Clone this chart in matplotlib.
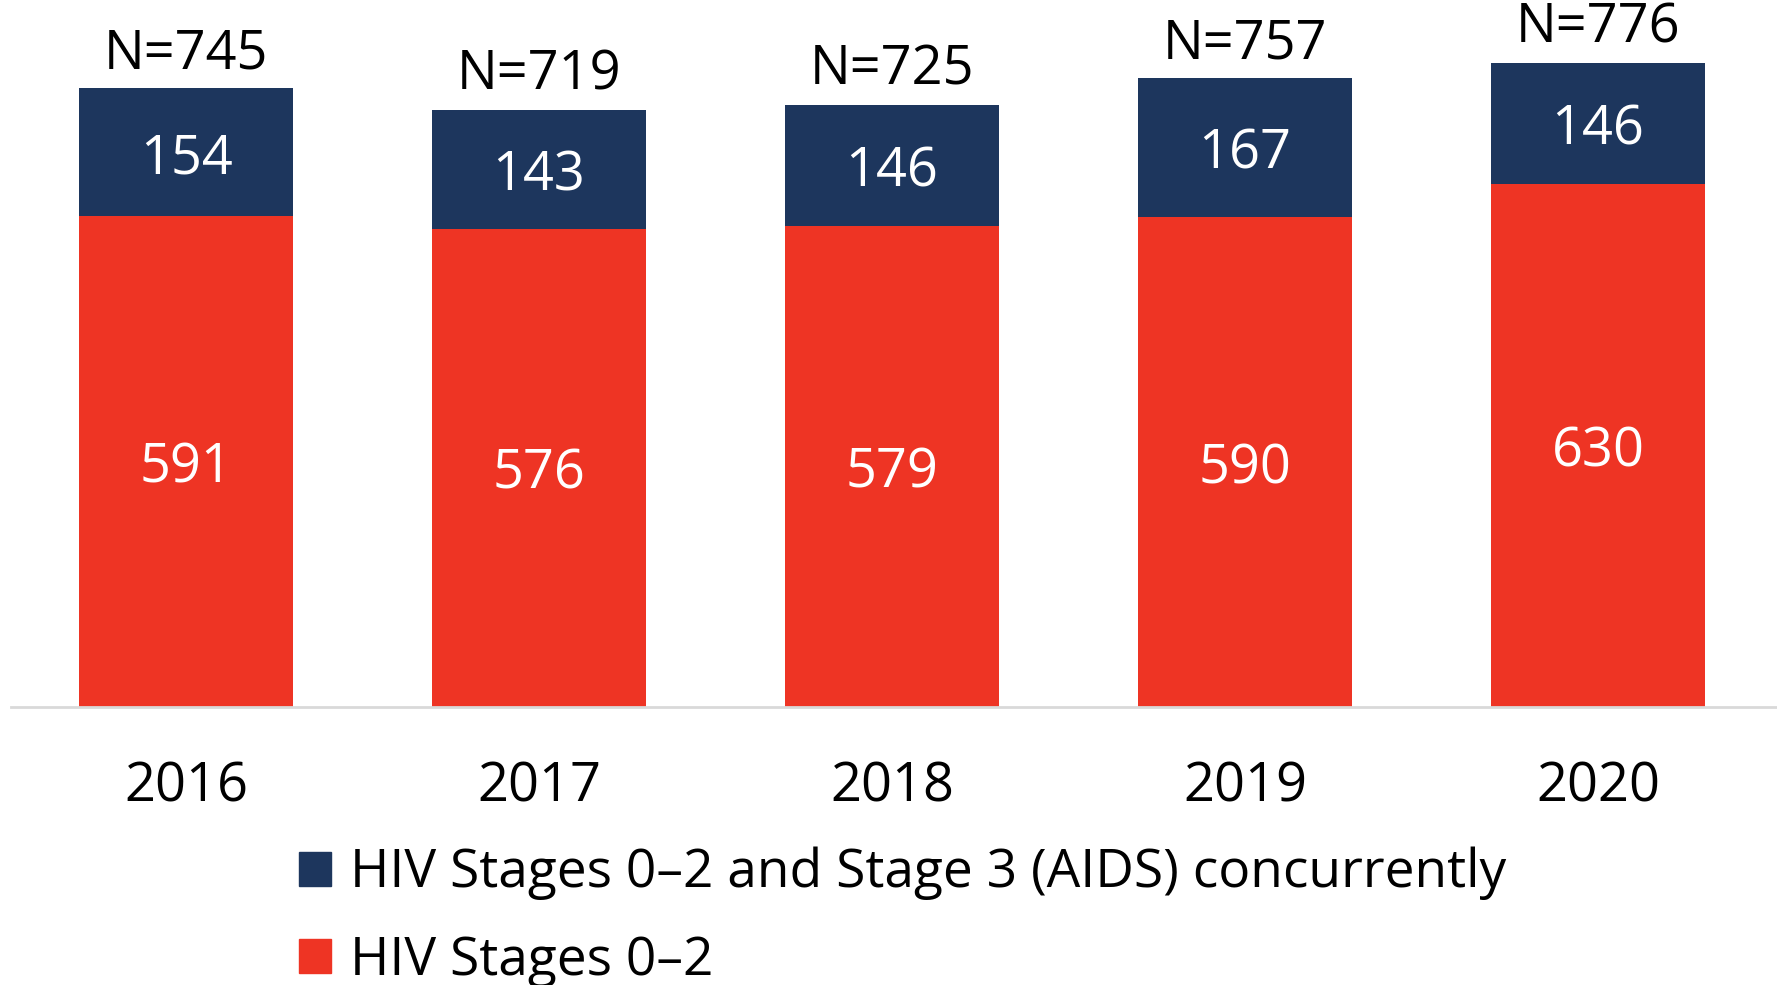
import numpy as np
import matplotlib.pyplot as plt
from matplotlib.patches import Patch

plt.rcParams['font.family'] = ['Open Sans', 'DejaVu Sans']

# chart data
years = ['2016', '2017', '2018', '2019', '2020']
stages_0_2 = [591, 576, 579, 590, 630]
concurrent = [154, 143, 146, 167, 146]
totals = [745, 719, 725, 757, 776]

red = '#ee3424'
navy = '#1d365d'
fs = 39

fig = plt.figure(figsize=(17.77, 9.85), dpi=100)
ax = fig.add_axes([11 / 1777, 1 - 707 / 985, 1 - 11 / 1777, 707 / 985])

x = np.arange(len(years))
width = 0.607
ax.bar(x, stages_0_2, width, color=red)
ax.bar(x, concurrent, width, bottom=stages_0_2, color=navy)

# value labels inside the segments, totals on top
for i in range(len(years)):
    ax.text(x[i], stages_0_2[i] / 2, str(stages_0_2[i]), ha='center',
            va='center_baseline', color='white', fontsize=fs)
    ax.text(x[i], stages_0_2[i] + concurrent[i] / 2, str(concurrent[i]),
            ha='center', va='center_baseline', color='white', fontsize=fs)
    ax.annotate('N=' + str(totals[i]), (x[i], totals[i]), xytext=(0, 14.5),
                textcoords='offset points', ha='center', va='baseline',
                fontsize=fs, color='black')

ax.set_xlim(-0.496, 4.507)
ax.set_ylim(0, 851.5)
ax.set_xticks(x)
ax.set_xticklabels(years, fontsize=fs)
ax.tick_params(axis='x', length=0, pad=37.5)
ax.set_yticks([])
for side in ['top', 'right', 'left']:
    ax.spines[side].set_visible(False)
ax.spines['bottom'].set_color('#d9d9d9')
ax.spines['bottom'].set_linewidth(2)

handles = [Patch(color=navy), Patch(color=red)]
labels = ['HIV Stages 0\u20132 and Stage 3 (AIDS) concurrently', 'HIV Stages 0\u20132']
fig.legend(handles, labels, loc='upper left', bbox_to_anchor=(299 / 1777, 1 - 847 / 985),
           frameon=False, fontsize=38.3, handlelength=0.6, handleheight=0.6,
           handletextpad=0.35, labelspacing=0.63, borderpad=0, borderaxespad=0)

fig.savefig('out.png', dpi=100)
